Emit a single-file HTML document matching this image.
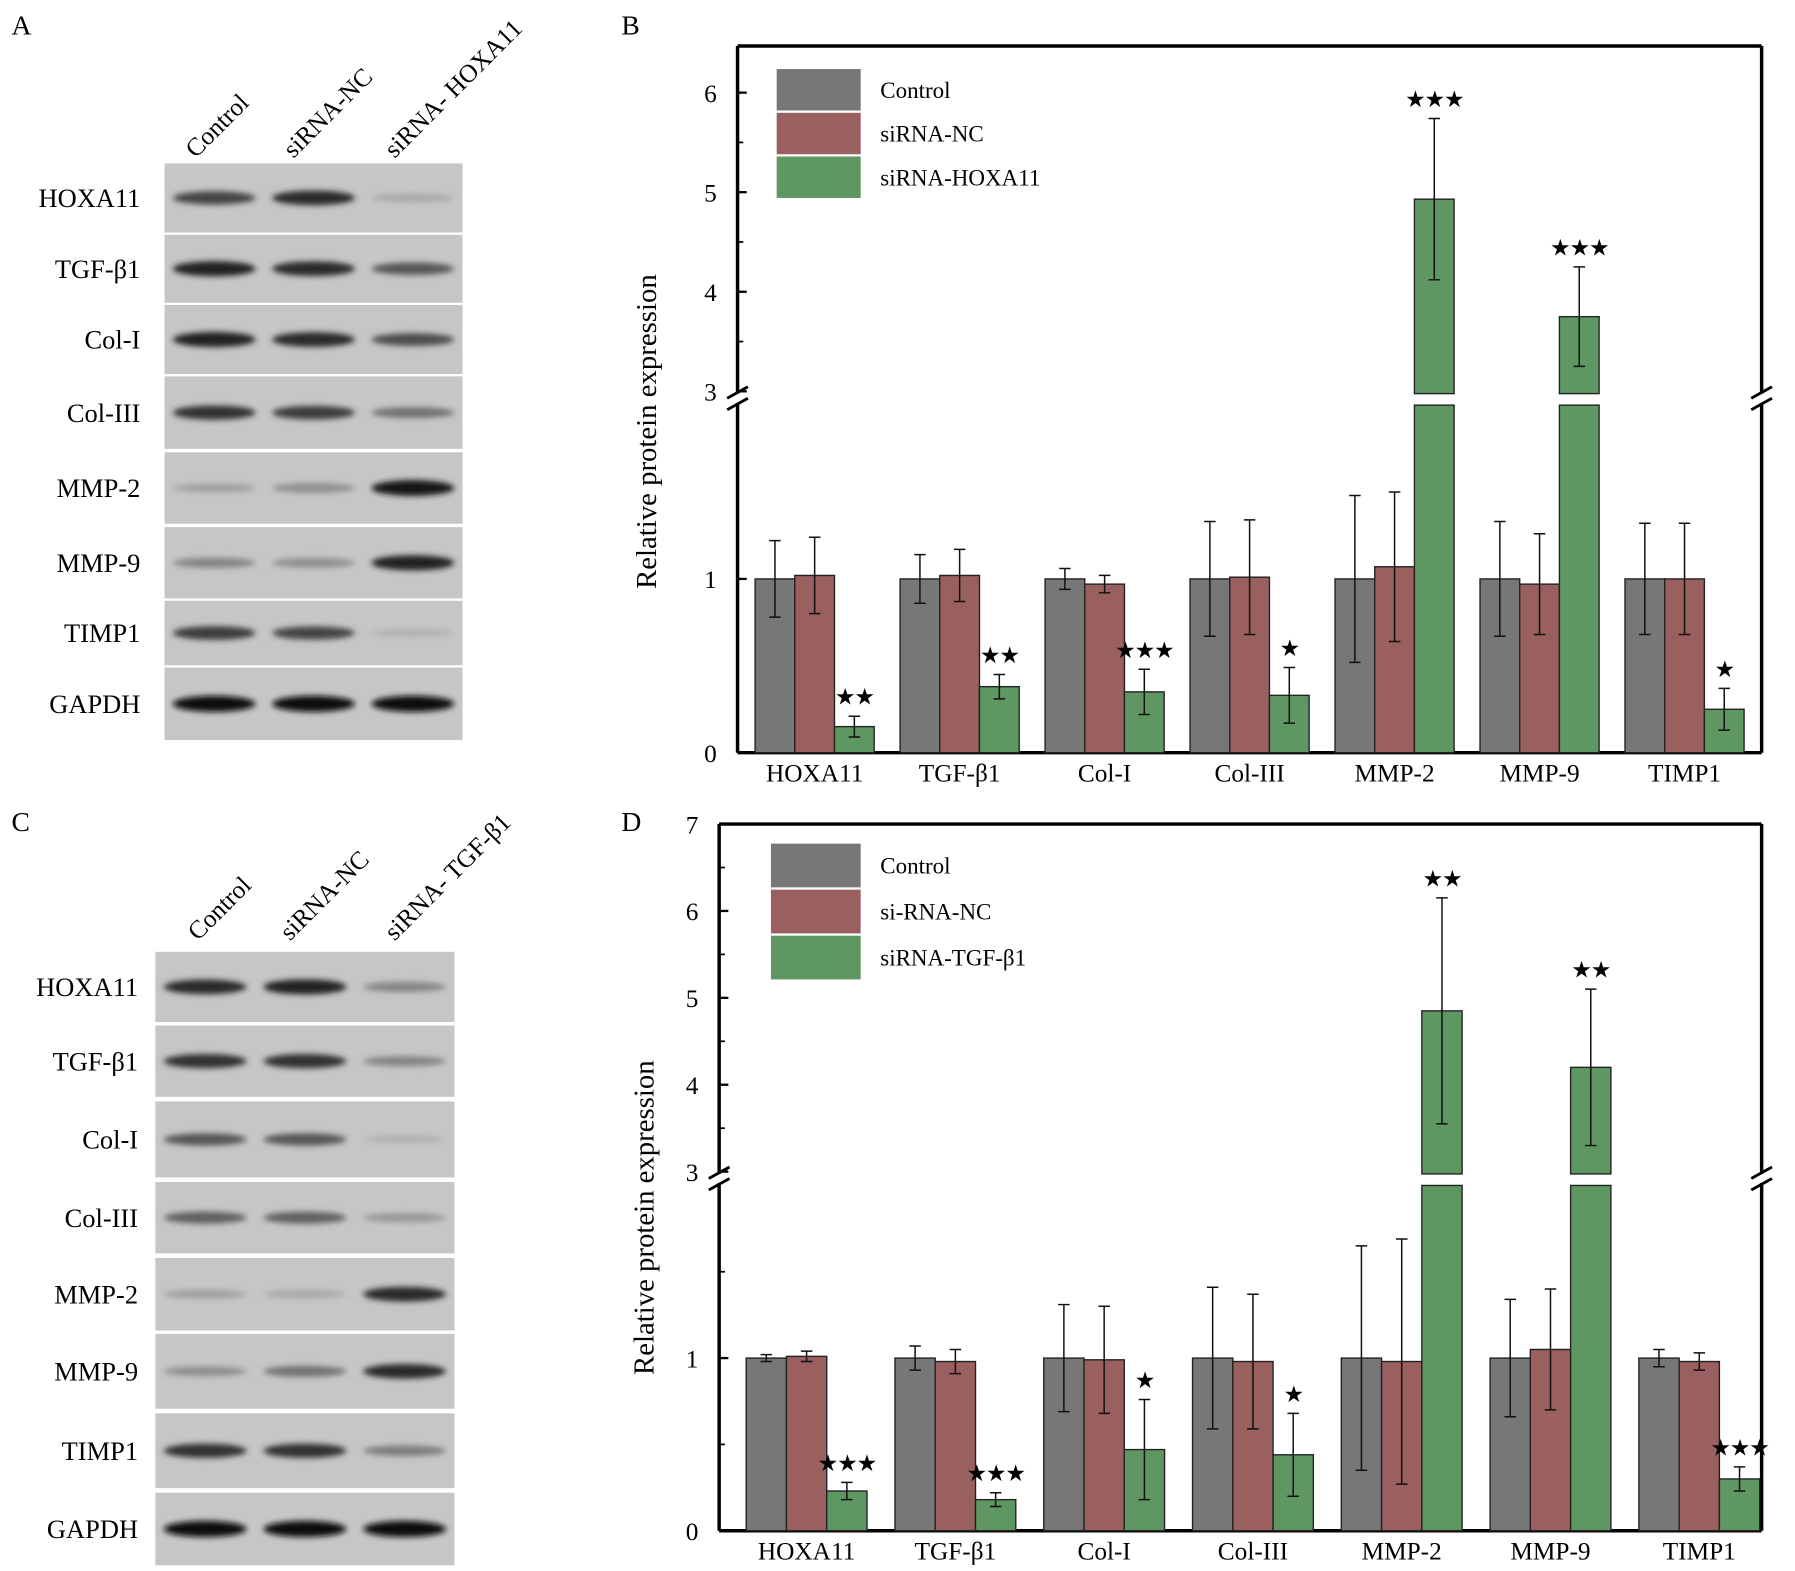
<!DOCTYPE html>
<html><head><meta charset="utf-8"><style>
html,body{margin:0;padding:0;background:#fff;}
svg{display:block;font-family:"Liberation Serif",serif;}
</style></head><body>
<svg id="fig" width="1795" height="1571" viewBox="0 0 1560 1365" preserveAspectRatio="none" xmlns="http://www.w3.org/2000/svg">
<defs><filter id="bl" x="-20%" y="-100%" width="140%" height="300%"><feGaussianBlur stdDeviation="2.5"/></filter></defs>
</svg>
<script>
const categories=["HOXA11","TGF-β1","Col-I","Col-III","MMP-2","MMP-9","TIMP1"];
const bControl=[1.0,1.0,1.0,1.0,1.0,1.0,1.0];
const bControlErr=[0.22,0.14,0.06,0.33,0.48,0.33,0.32];
const bNC=[1.02,1.02,0.97,1.01,1.07,0.97,1.0];
const bNCErr=[0.22,0.15,0.05,0.33,0.43,0.29,0.32];
const bSi=[0.15,0.38,0.35,0.33,4.93,3.75,0.25];
const bSiErr=[0.06,0.07,0.13,0.16,0.81,0.5,0.12];
const bStars=[2,2,3,1,3,3,1];
const dControl=[1.0,1.0,1.0,1.0,1.0,1.0,1.0];
const dControlErr=[0.02,0.07,0.31,0.41,0.65,0.34,0.05];
const dNC=[1.01,0.98,0.99,0.98,0.98,1.05,0.98];
const dNCErr=[0.03,0.07,0.31,0.39,0.71,0.35,0.05];
const dSi=[0.23,0.18,0.47,0.44,4.85,4.2,0.3];
const dSiErr=[0.05,0.04,0.29,0.24,1.3,0.9,0.07];
const dStars=[3,3,1,1,2,2,3];
const blotRowsA=["HOXA11","TGF-β1","Col-I","Col-III","MMP-2","MMP-9","TIMP1","GAPDH"];
const blotIntA=[[0.7,0.85,0.15],[0.9,0.85,0.6],[0.9,0.85,0.65],[0.8,0.75,0.45],[0.2,0.3,0.95],[0.35,0.3,0.9],[0.75,0.7,0.1],[1,1,1]];
const blotIntC=[[0.85,0.9,0.35],[0.8,0.8,0.35],[0.6,0.6,0.1],[0.55,0.55,0.25],[0.2,0.15,0.85],[0.3,0.45,0.85],[0.8,0.8,0.4],[1,1,1]];

const svg=document.getElementById('fig');
const NS='http://www.w3.org/2000/svg';
function el(tag,attrs,parent,text){const e=document.createElementNS(NS,tag);for(const k in attrs)e.setAttribute(k,attrs[k]);if(text!==undefined)e.textContent=text;(parent||svg).appendChild(e);return e;}

function label(x,y,t,name){const e=el('text',{x:x,y:y,'font-size':24},svg,t);

}
label(10,30,'A','panel-a-label');label(540,30,'B','panel-b-label');label(10,722,'C','panel-c-label');label(540,722,'D','panel-d-label');

function blot(cfg){
  const g=el('g',{});
  
  
  cfg.heads.forEach((h,i)=>{const t=el('text',{x:cfg.headX[i],y:cfg.headY,'font-size':22,transform:`rotate(-45 ${cfg.headX[i]} ${cfg.headY})`},g,h);
    
    });
  cfg.rows.forEach((r,i)=>{
    const [y0,y1]=cfg.ys[i];
    const rg=el('g',{},g);
    
    
    el('rect',{x:cfg.x0,y:y0,width:cfg.x1-cfg.x0,height:y1-y0,fill:'#c6c6c6'},rg);
    const cy=(y0+y1)/2;
    cfg.ints[i].forEach((v,j)=>{
      const cx=cfg.x0+(cfg.x1-cfg.x0)*(j+0.5)/3;
      const gray=Math.round(195-180*v);
      el('ellipse',{cx:cx,cy:cy,rx:36,ry:3+4*v,fill:`rgb(${gray},${gray},${gray})`,filter:'url(#bl)'},rg);
    });
    const t=el('text',{x:cfg.lx,y:cy+8,'font-size':23,'text-anchor':'end'},rg,r);
    
    
  });
}
blot({name:'blot-a',x0:143,x1:402,lx:122,heads:['Control','siRNA-NC','siRNA- HOXA11'],headX:[170,255,343],headY:138,
  rows:blotRowsA,ints:blotIntA,ys:[[142,202],[204,263],[265,325],[327,390],[393,455],[458,520],[522,578],[580,643]]});
blot({name:'blot-c',x0:135,x1:395,lx:120,heads:['Control','siRNA-NC','siRNA- TGF-β1'],headX:[172,252,343],headY:818,
  rows:blotRowsA,ints:blotIntC,ys:[[827,888],[891,953],[957,1023],[1027,1089],[1093,1156],[1159,1224],[1228,1293],[1297,1360]]});

function chart(c){
  const g=el('g',{});
  
  
  const brk=2.0;
  const yS=v=> v<=brk ? c.y0 - v*c.pu : c.y3 - (v-3)*c.pu2;
  const breakY=c.y0-brk*c.pu;
  const xS=(i,k)=> c.gx0 + i*c.gs + (k-1.5)*c.bw;
  const series=[[c.s0,c.e0,'#777777'],[c.s1,c.e1,'#9a5f5f'],[c.s2,c.e2,'#5f9763']];
  const ax=el('g',{},g);
  
  
  el('line',{x1:c.xl,y1:c.top,x2:c.xr,y2:c.top,stroke:'#000','stroke-width':3},ax);
  el('line',{x1:c.xl,y1:c.y0,x2:c.xr,y2:c.y0,stroke:'#000','stroke-width':3},ax);
  [c.xl,c.xr].forEach(x=>{
    el('line',{x1:x,y1:c.top,x2:x,y2:c.y3+2,stroke:'#000','stroke-width':3},ax);
    el('line',{x1:x,y1:breakY-2,x2:x,y2:c.y0,stroke:'#000','stroke-width':3},ax);
    el('line',{x1:x-9,y1:c.y3+6,x2:x+9,y2:c.y3-4,stroke:'#000','stroke-width':2.5},ax);
    el('line',{x1:x-9,y1:breakY+4,x2:x+9,y2:breakY-6,stroke:'#000','stroke-width':2.5},ax);
  });
  c.ticks.forEach(v=>{const y=yS(v);
    el('line',{x1:c.xl,y1:y,x2:c.xl+8,y2:y,stroke:'#000','stroke-width':2},ax);
    const t=el('text',{x:c.xl-18,y:y+8,'font-size':22,'text-anchor':'end'},g,String(v));
    
    });
  c.minor.forEach(v=>{const y=yS(v);el('line',{x1:c.xl,y1:y,x2:c.xl+5,y2:y,stroke:'#000','stroke-width':1.5},ax);});
  const yt=el('text',{x:0,y:0,'font-size':25,'text-anchor':'middle',transform:`translate(${c.ytx},${c.yty}) rotate(-90)`},g,'Relative protein expression');
  
  
  categories.forEach((cat,i)=>{
    series.forEach(([vals,errs,col],k)=>{
      const v=vals[i],x=xS(i,k);
      if(v<=brk){
        const r=el('rect',{x:x,y:yS(v),width:c.bw,height:c.y0-yS(v),fill:col,stroke:'#222','stroke-width':1.2},g);
        
        
      } else {
        const r1=el('rect',{x:x,y:breakY,width:c.bw,height:c.y0-breakY,fill:col,stroke:'#222','stroke-width':1.2},g);
        
        
        const r2=el('rect',{x:x,y:yS(v),width:c.bw,height:c.y3+2-yS(v),fill:col,stroke:'#222','stroke-width':1.2},g);
        
        
      }
      const cx=x+c.bw/2, e=errs[i];
      const eb=el('path',{d:`M${cx},${yS(v+e)}V${yS(v-e)}M${cx-5},${yS(v+e)}H${cx+5}M${cx-5},${yS(v-e)}H${cx+5}`,stroke:'#111','stroke-width':1.3,fill:'none'},g);
      
      
      if(k===2){
        const st=el('text',{x:cx,y:yS(v+e)-10,'font-size':20,'text-anchor':'middle','font-family':'DejaVu Sans','letter-spacing':'-1'},g,'★'.repeat(c.stars[i]));
        
        
      }
    });
    const xl=el('text',{x:c.gx0+i*c.gs,y:c.y0+25,'font-size':22,'text-anchor':'middle'},g,cat);
    
    
  });
  c.legend.forEach((n,k)=>{
    const lg=el('g',{},g);
    
    
    el('rect',{x:c.lgx,y:c.lgy+k*c.lgh,width:c.lgw,height:c.lgh-2,fill:series[k][2]},lg);
    el('text',{x:c.lgx+c.lgw+17,y:c.lgy+k*c.lgh+c.lgh/2+6,'font-size':20},lg,n);
  });
}
chart({name:'chart-b',xl:641,xr:1531,top:40,y0:654,y3:340,pu:151,pu2:86.5,gx0:708,gs:126,bw:34.5,
  s0:bControl,e0:bControlErr,s1:bNC,e1:bNCErr,s2:bSi,e2:bSiErr,stars:bStars,
  ticks:[0,1,3,4,5,6],minor:[3.5,4.5,5.5],ytx:570,yty:375,
  legend:['Control','siRNA-NC','siRNA-HOXA11'],lgx:675,lgy:60,lgh:38,lgw:73});
chart({name:'chart-d',xl:625,xr:1531,top:716,y0:1330,y3:1018,pu:150,pu2:75.5,gx0:701,gs:129.3,bw:35,
  s0:dControl,e0:dControlErr,s1:dNC,e1:dNCErr,s2:dSi,e2:dSiErr,stars:dStars,
  ticks:[0,1,3,4,5,6,7],minor:[0.5,1.5,3.5,4.5,5.5,6.5],ytx:568,yty:1058,
  legend:['Control','si-RNA-NC','siRNA-TGF-β1'],lgx:670,lgy:733,lgh:40,lgw:78});
</script>
</body></html>
